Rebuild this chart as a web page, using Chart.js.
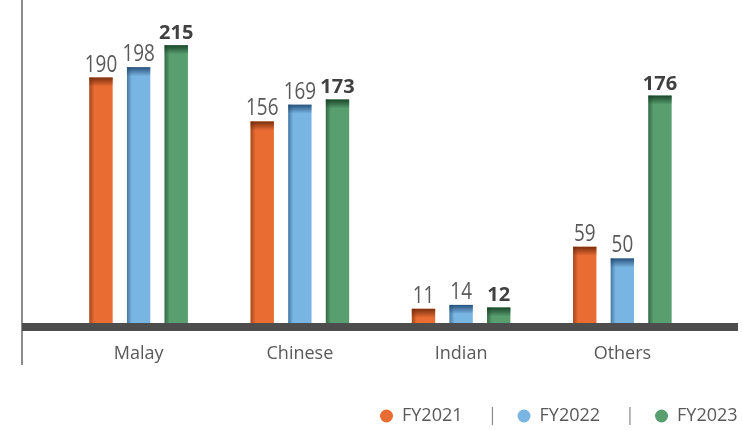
<!DOCTYPE html>
<html>
<head>
<meta charset="utf-8">
<script src="https://cdn.jsdelivr.net/npm/chart.js@4.4.1/dist/chart.umd.min.js"></script>
<style>
  html, body { margin: 0; padding: 0; background: #fff; }
  #wrap { width: 742px; height: 430px; position: relative; }
</style>
</head>
<body>
<div id="wrap"><canvas id="chart"></canvas></div>
<script>
const categories = ['Malay', 'Chinese', 'Indian', 'Others'];
const years = ['FY2021', 'FY2022', 'FY2023'];
const fy2021 = [190, 156, 11, 59];
const fy2022 = [198, 169, 14, 50];
const fy2023 = [215, 173, 12, 176];

const colors = ['#e96c32', '#79b5e3', '#589e6e'];
const shades = ['rgba(110,40,10,', 'rgba(30,70,110,', 'rgba(20,60,35,'];
const textGray = '#595959';

// frame: thin left rule and the heavy base line
const framePlugin = {
  id: 'frame',
  afterDatasetsDraw(chart) {
    const ctx = chart.ctx;
    const base = chart.scales.y.getPixelForValue(0);
    ctx.save();
    ctx.fillStyle = '#8c8c8c';
    ctx.fillRect(21, 0, 2, 365);
    ctx.fillStyle = '#4d4d4d';
    ctx.fillRect(22, base, 716, 8);
    ctx.restore();
  }
};

// darker top and left edges on every bar
const bevelPlugin = {
  id: 'bevel',
  afterDatasetsDraw(chart) {
    const ctx = chart.ctx;
    ctx.save();
    chart.data.datasets.forEach((ds, i) => {
      chart.getDatasetMeta(i).data.forEach(bar => {
        const left = bar.x - bar.width / 2;
        const h = bar.base - bar.y;
        const top = ctx.createLinearGradient(0, bar.y, 0, bar.y + 9);
        top.addColorStop(0, shades[i] + '0.9)');
        top.addColorStop(1, shades[i] + '0)');
        ctx.fillStyle = top;
        ctx.fillRect(left, bar.y, bar.width, Math.min(9, h));
        const side = ctx.createLinearGradient(left, 0, left + 5, 0);
        side.addColorStop(0, shades[i] + '0.55)');
        side.addColorStop(1, shades[i] + '0)');
        ctx.fillStyle = side;
        ctx.fillRect(left, bar.y, 5, h);
      });
    });
    ctx.restore();
  }
};

// value above each bar; latest year in bold
const valuePlugin = {
  id: 'values',
  afterDatasetsDraw(chart) {
    const ctx = chart.ctx;
    ctx.save();
    ctx.textAlign = 'center';
    ctx.textBaseline = 'alphabetic';
    chart.data.datasets.forEach((ds, i) => {
      chart.getDatasetMeta(i).data.forEach((bar, j) => {
        const txt = String(ds.data[j]);
        ctx.save();
        if (i === 2) {
          ctx.font = 'bold 20px "Open Sans"';
          ctx.fillStyle = '#404040';
          ctx.fillText(txt, bar.x, bar.y - 6);
        } else {
          ctx.font = '23px "Open Sans"';
          ctx.fillStyle = textGray;
          ctx.translate(bar.x, bar.y - 6);
          ctx.scale(0.82, 1);
          ctx.fillText(txt, 0, 0);
        }
        ctx.restore();
      });
    });
    ctx.restore();
  }
};

// legend row with separators
const legendPlugin = {
  id: 'legendRow',
  afterDraw(chart) {
    const ctx = chart.ctx;
    const y = 416;
    let x = 380;
    ctx.save();
    ctx.font = '18px "Open Sans"';
    ctx.textBaseline = 'middle';
    years.forEach((label, i) => {
      ctx.fillStyle = colors[i];
      ctx.beginPath();
      ctx.arc(x + 6.5, y, 6.5, 0, Math.PI * 2);
      ctx.fill();
      ctx.fillStyle = textGray;
      ctx.fillText(label, x + 22, y);
      x += 22 + ctx.measureText(label).width;
      if (i < years.length - 1) {
        ctx.fillStyle = '#8c8c8c';
        ctx.fillText('|', x + 25, y);
        x += 55;
      }
    });
    ctx.restore();
  }
};

new Chart(document.getElementById('chart'), {
  type: 'bar',
  data: {
    labels: categories,
    datasets: [
      { label: years[0], data: fy2021, backgroundColor: colors[0] },
      { label: years[1], data: fy2022, backgroundColor: colors[1] },
      { label: years[2], data: fy2023, backgroundColor: colors[2] }
    ]
  },
  options: {
    responsive: true,
    maintainAspectRatio: false,
    animation: false,
    layout: { padding: { left: 58, right: 39, top: 0, bottom: 0 } },
    datasets: {
      bar: { categoryPercentage: 0.7, barPercentage: 0.62 }
    },
    plugins: {
      legend: { display: false },
      tooltip: { enabled: false }
    },
    scales: {
      x: {
        grid: { display: false },
        border: { display: false },
        ticks: {
          color: textGray,
          font: { family: 'Open Sans', size: 18 },
          padding: 12
        },
        afterFit(scale) { scale.height = 107; }
      },
      y: {
        display: false,
        min: 0,
        max: 250
      }
    }
  },
  plugins: [bevelPlugin, framePlugin, valuePlugin, legendPlugin]
});
</script>
</body>
</html>
